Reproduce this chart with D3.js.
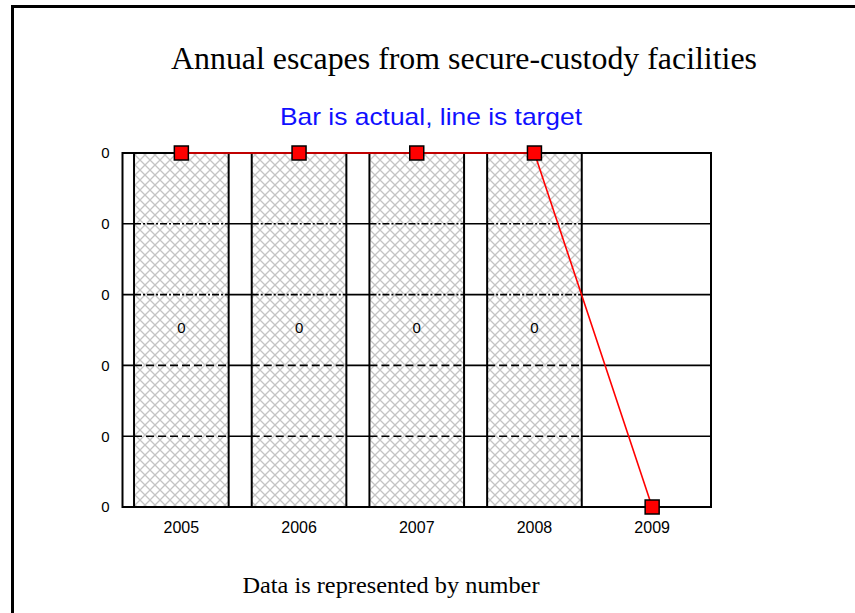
<!DOCTYPE html>
<html>
<head>
<meta charset="utf-8">
<script src="https://cdn.jsdelivr.net/npm/d3@7"></script>
<style>
  body { margin: 0; background: #fff; }
  svg { display: block; }
</style>
</head>
<body>
<svg id="chart" width="855" height="613"></svg>
<script>
var years = ["2005", "2006", "2007", "2008", "2009"];
var actual = [0, 0, 0, 0, null];
var target = [0, 0, 0, 0, null];
// the source chart had no range, its axis runs from this floor up to 0
// and every tick label rounds to "0"
var yFloor = -0.25;

var titleText = "Annual escapes from secure-custody facilities";
var subtitleText = "Bar is actual, line is target";
var footText = "Data is represented by number";

var svg = d3.select("#chart");
var fmt = d3.format(".0f");

// page frame (top and left edge only)
svg.append("line").attr("x1", 12).attr("x2", 855).attr("y1", 6.5).attr("y2", 6.5)
  .attr("stroke", "#000").attr("stroke-width", 3);
svg.append("line").attr("x1", 12.5).attr("x2", 12.5).attr("y1", 5).attr("y2", 613)
  .attr("stroke", "#000").attr("stroke-width", 3);

svg.append("text").attr("x", 464).attr("y", 69).attr("text-anchor", "middle")
  .style("font-family", "'Liberation Serif', 'Times New Roman', serif")
  .style("font-size", "31px").attr("textLength", 586).attr("lengthAdjust", "spacingAndGlyphs")
  .text(titleText);

svg.append("text").attr("x", 431).attr("y", 125).attr("text-anchor", "middle")
  .style("font-family", "'Liberation Sans', Arial, sans-serif")
  .style("font-size", "24px").style("fill", "#1010ff")
  .attr("textLength", 302).attr("lengthAdjust", "spacingAndGlyphs")
  .text(subtitleText);

svg.append("text").attr("x", 391).attr("y", 593).attr("text-anchor", "middle")
  .style("font-family", "'Liberation Serif', 'Times New Roman', serif")
  .style("font-size", "24px").attr("textLength", 297).attr("lengthAdjust", "spacingAndGlyphs")
  .text(footText);

var plotL = 122.5, plotR = 711, plotT = 153, plotB = 507;

var x = d3.scaleBand().domain(years).range([plotL, plotR])
  .paddingInner(0.196).paddingOuter(0.098);
var y = d3.scaleLinear().domain([yFloor, 0]).range([plotB, plotT]);
var ticks = y.ticks(5);
var inner = ticks.filter(function(t){ return t > yFloor && t < 0; });

var defs = svg.append("defs");
var pat = defs.append("pattern").attr("id", "hatch").attr("patternUnits", "userSpaceOnUse")
  .attr("width", 10).attr("height", 10);
pat.append("rect").attr("width", 10).attr("height", 10).attr("fill", "#fff");
pat.append("path").attr("d", "M-1,-1 L11,11 M11,-1 L-1,11")
  .attr("stroke", "#c4c4c4").attr("stroke-width", 1.3);

// solid grid lines
svg.append("g").selectAll("line")
  .data(inner)
  .enter().append("line")
  .attr("x1", plotL).attr("x2", plotR)
  .attr("y1", function(d){ return y(d); }).attr("y2", function(d){ return y(d); })
  .attr("stroke", "#000").attr("stroke-width", 1.6);

// bars
var barData = years.map(function(yr, i){ return {year: yr, value: actual[i]}; })
  .filter(function(d){ return d.value != null; });

var bars = svg.append("g").selectAll("g").data(barData).enter().append("g");
bars.append("rect")
  .attr("x", function(d){ return x(d.year); })
  .attr("y", function(d){ return y(d.value); })
  .attr("width", x.bandwidth())
  .attr("height", function(d){ return y(yFloor) - y(d.value); })
  .attr("fill", "url(#hatch)");

// grid lines seen through the hatch are broken
bars.each(function(d){
  var g = d3.select(this);
  inner.forEach(function(t){
    g.append("line")
      .attr("x1", x(d.year)).attr("x2", x(d.year) + x.bandwidth())
      .attr("y1", y(t)).attr("y2", y(t))
      .attr("stroke", "#000").attr("stroke-width", 1.6)
      .attr("stroke-dasharray", t < -0.12 ? "8,4" : "7,2,2,2");
  });
});

bars.append("line")
  .attr("x1", function(d){ return x(d.year); }).attr("x2", function(d){ return x(d.year); })
  .attr("y1", function(d){ return y(d.value); }).attr("y2", y(yFloor))
  .attr("stroke", "#000").attr("stroke-width", 2);
bars.append("line")
  .attr("x1", function(d){ return x(d.year) + x.bandwidth(); })
  .attr("x2", function(d){ return x(d.year) + x.bandwidth(); })
  .attr("y1", function(d){ return y(d.value); }).attr("y2", y(yFloor))
  .attr("stroke", "#000").attr("stroke-width", 2);

bars.append("text")
  .attr("x", function(d){ return x(d.year) + x.bandwidth() / 2; })
  .attr("y", function(d){ return y((d.value + yFloor) / 2) + 3; })
  .attr("text-anchor", "middle")
  .style("font-family", "'Liberation Sans', Arial, sans-serif").style("font-size", "15px")
  .text(function(d){ return fmt(d.value); });

// plot frame
svg.append("rect").attr("x", plotL).attr("y", plotT)
  .attr("width", plotR - plotL).attr("height", plotB - plotT)
  .attr("fill", "none").attr("stroke", "#000").attr("stroke-width", 2);

// axes
var yAxis = d3.axisLeft(y).tickValues(ticks).tickFormat(fmt).tickSize(0).tickPadding(13);
var gy = svg.append("g").attr("transform", "translate(" + plotL + ",0)").call(yAxis);
gy.select(".domain").remove();
gy.selectAll("text").style("font-family", "'Liberation Sans', Arial, sans-serif")
  .style("font-size", "15px").attr("fill", "#000");

var xAxis = d3.axisBottom(x).tickSize(0).tickPadding(15);
var gx = svg.append("g").attr("transform", "translate(0," + plotB + ")").call(xAxis);
gx.select(".domain").remove();
gx.selectAll("text").style("font-family", "'Liberation Sans', Arial, sans-serif")
  .style("font-size", "16px").attr("fill", "#000");

// target line, a missing target is drawn at the axis floor
var pts = years.map(function(yr, i){
  return {year: yr, value: target[i] == null ? yFloor : target[i]};
});
var line = d3.line()
  .x(function(d){ return x(d.year) + x.bandwidth() / 2; })
  .y(function(d){ return y(d.value); });
svg.append("path").datum(pts).attr("d", line)
  .attr("fill", "none").attr("stroke", "#ff0000").attr("stroke-width", 1.6);
svg.append("g").selectAll("rect").data(pts).enter().append("rect")
  .attr("x", function(d){ return x(d.year) + x.bandwidth() / 2 - 7; })
  .attr("y", function(d){ return y(d.value) - 7; })
  .attr("width", 14).attr("height", 14)
  .attr("fill", "#ff0000").attr("stroke", "#000").attr("stroke-width", 1.5);
</script>
</body>
</html>
